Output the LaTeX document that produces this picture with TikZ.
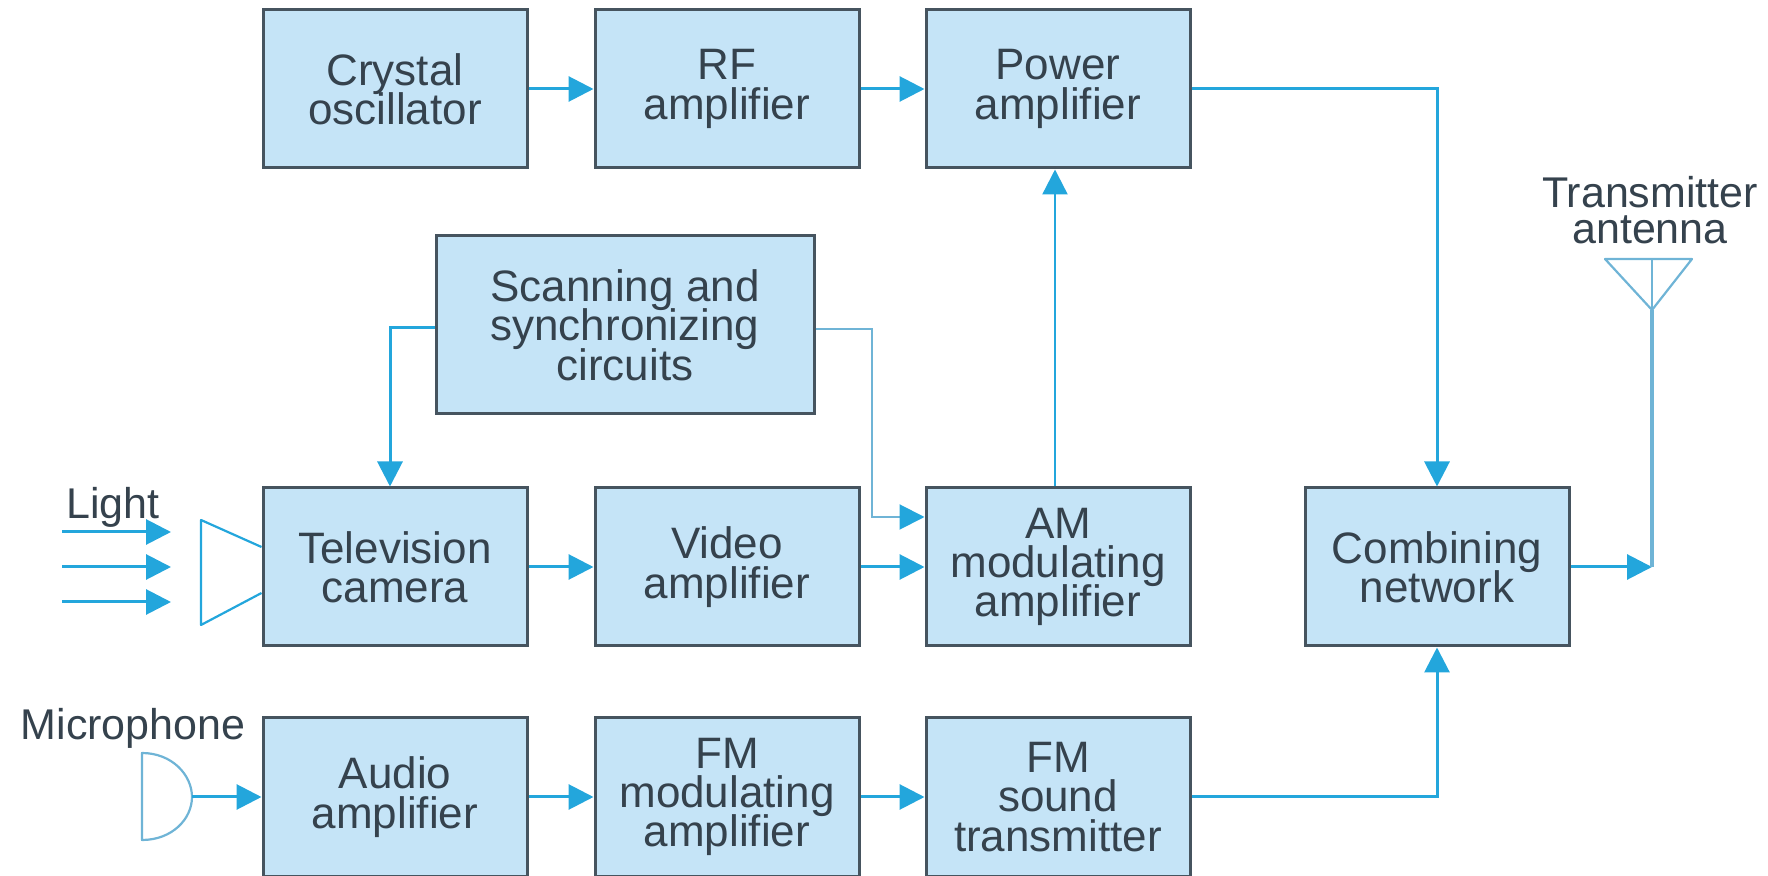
\documentclass[tikz,border=0pt]{standalone}
\usepackage{fontspec}
\setmainfont{Liberation Sans}
\usetikzlibrary{arrows.meta}
\lineskiplimit=-30pt
\definecolor{boxfill}{HTML}{C5E4F7}
\definecolor{boxline}{HTML}{46545F}
\definecolor{txt}{HTML}{35424D}
\definecolor{wire}{HTML}{23A6DC}
\definecolor{thinwire}{HTML}{6FB4D6}
\tikzset{
  blk/.style={draw=boxline,fill=boxfill,line width=1.5pt,inner sep=0pt,
    minimum width=132pt,minimum height=79pt,text=txt,align=center,
    font=\fontsize{22}{19.7}\selectfont},
  lbl/.style={text=txt,align=center,inner sep=0pt,
    font=\fontsize{21.5}{18}\selectfont},
  wr/.style={draw=wire,line width=1.5pt},
  arr/.style={wr,-{Triangle[length=12.5pt,width=12.5pt]}},
  thinw/.style={draw=thinwire,line width=1pt},
  thinarr/.style={thinw,-{Triangle[length=12.5pt,width=12.5pt,color=wire]}},
  sym/.style={draw=thinwire,line width=1.1pt,line join=round}
}
\begin{document}
\begin{tikzpicture}[x=0.5pt,y=-0.5pt]
\useasboundingbox (0,0) rectangle (1768,876);
% blocks
\node[blk] (crystal) at (395,89) {Crystal\\oscillator};
\node[blk] (rf) at (727,89) {RF\\amplifier};
\node[blk] (power) at (1058,89) {Power\\amplifier};
\node[blk,minimum width=189pt,minimum height=89pt] (scan) at (625,325) {Scanning and\\synchronizing\\circuits};
\node[blk] (tv) at (395,567) {Television\\camera};
\node[blk] (video) at (727,567) {Video\\amplifier};
\node[blk] (am) at (1058,567) {AM\\modulating\\amplifier};
\node[blk] (comb) at (1437,567) {Combining\\network};
\node[blk] (audio) at (395,797) {Audio\\amplifier};
\node[blk] (fmmod) at (727,797) {FM\\modulating\\amplifier};
\node[blk] (fmtx) at (1058,797) {FM\\sound\\transmitter};
% labels
\node[lbl,anchor=base] (light) at (113,519) {Light};
\node[lbl,anchor=base] (mic) at (133,740) {Microphone};
\node[lbl] (ant) at (1650,210) {Transmitter\\antenna};
% helper coordinates
\coordinate (pbend) at (comb.north |- power.east);
\coordinate (fbend) at (comb.south |- fmtx.east);
\coordinate (scanl) at (scan.west |- 0,328);
\coordinate (scanlb) at (tv.north -| 390,0);
\coordinate (scanlc) at (scanlb |- scanl);
\coordinate (scanr) at (scan.east |- 0,329);
\coordinate (scanrb) at (872,329);
\coordinate (scanrc) at (872,517);
\coordinate (amin) at (am.west |- scanrc);
\coordinate (antfoot) at (1652,567);
\coordinate (anttop) at (1652,260);
\coordinate (antapex) at (1652,310);
\coordinate (antl) at (1605,259);
\coordinate (antr) at (1692,259);
\coordinate (l1a) at (62,532);\coordinate (l1b) at (171,532);
\coordinate (l2a) at (62,567);\coordinate (l2b) at (171,567);
\coordinate (l3a) at (62,602);\coordinate (l3b) at (171,602);
\coordinate (micout) at (192,797);
\coordinate (upa) at (am.north -| 1055,0);
\coordinate (upb) at (power.south -| 1055,0);
% connectors
\draw[arr] (crystal) -- (rf);
\draw[arr] (rf) -- (power);
\draw[arr] (power.east) -- (pbend) -- (comb.north);
\draw[arr,line width=1.2pt] (upa) -- (upb);
\draw[arr] (scanl) -- (scanlc) -- (scanlb);
\draw[thinarr] (scanr) -- (scanrb) -- (scanrc) -- (amin);
\draw[arr] (tv) -- (video);
\draw[arr] (video) -- (am);
\draw[arr] (audio) -- (fmmod);
\draw[arr] (fmmod) -- (fmtx);
\draw[arr] (fmtx.east) -- (fbend) -- (comb.south);
\draw[arr] (comb.east) -- (antfoot);
\draw[draw=thinwire,line width=2pt] (antfoot) -- (antapex);
\draw[sym] (antl) -- (antr) -- (antapex) -- cycle;
\draw[sym] (anttop) -- (antapex);
\draw[arr] (l1a) -- (l1b);
\draw[arr] (l2a) -- (l2b);
\draw[arr] (l3a) -- (l3b);
\draw[sym,draw=wire] (tv.west |- 0,547) -- (201,520) -- (201,625) -- (tv.west |- 0,593);
\draw[sym,fill=white] (142,753) .. controls (172,753) and (192,775) .. (micout) .. controls (192,819) and (172,840) .. (142,840) -- cycle;
\draw[arr] (micout) -- (audio.west);
\end{tikzpicture}
\end{document}
